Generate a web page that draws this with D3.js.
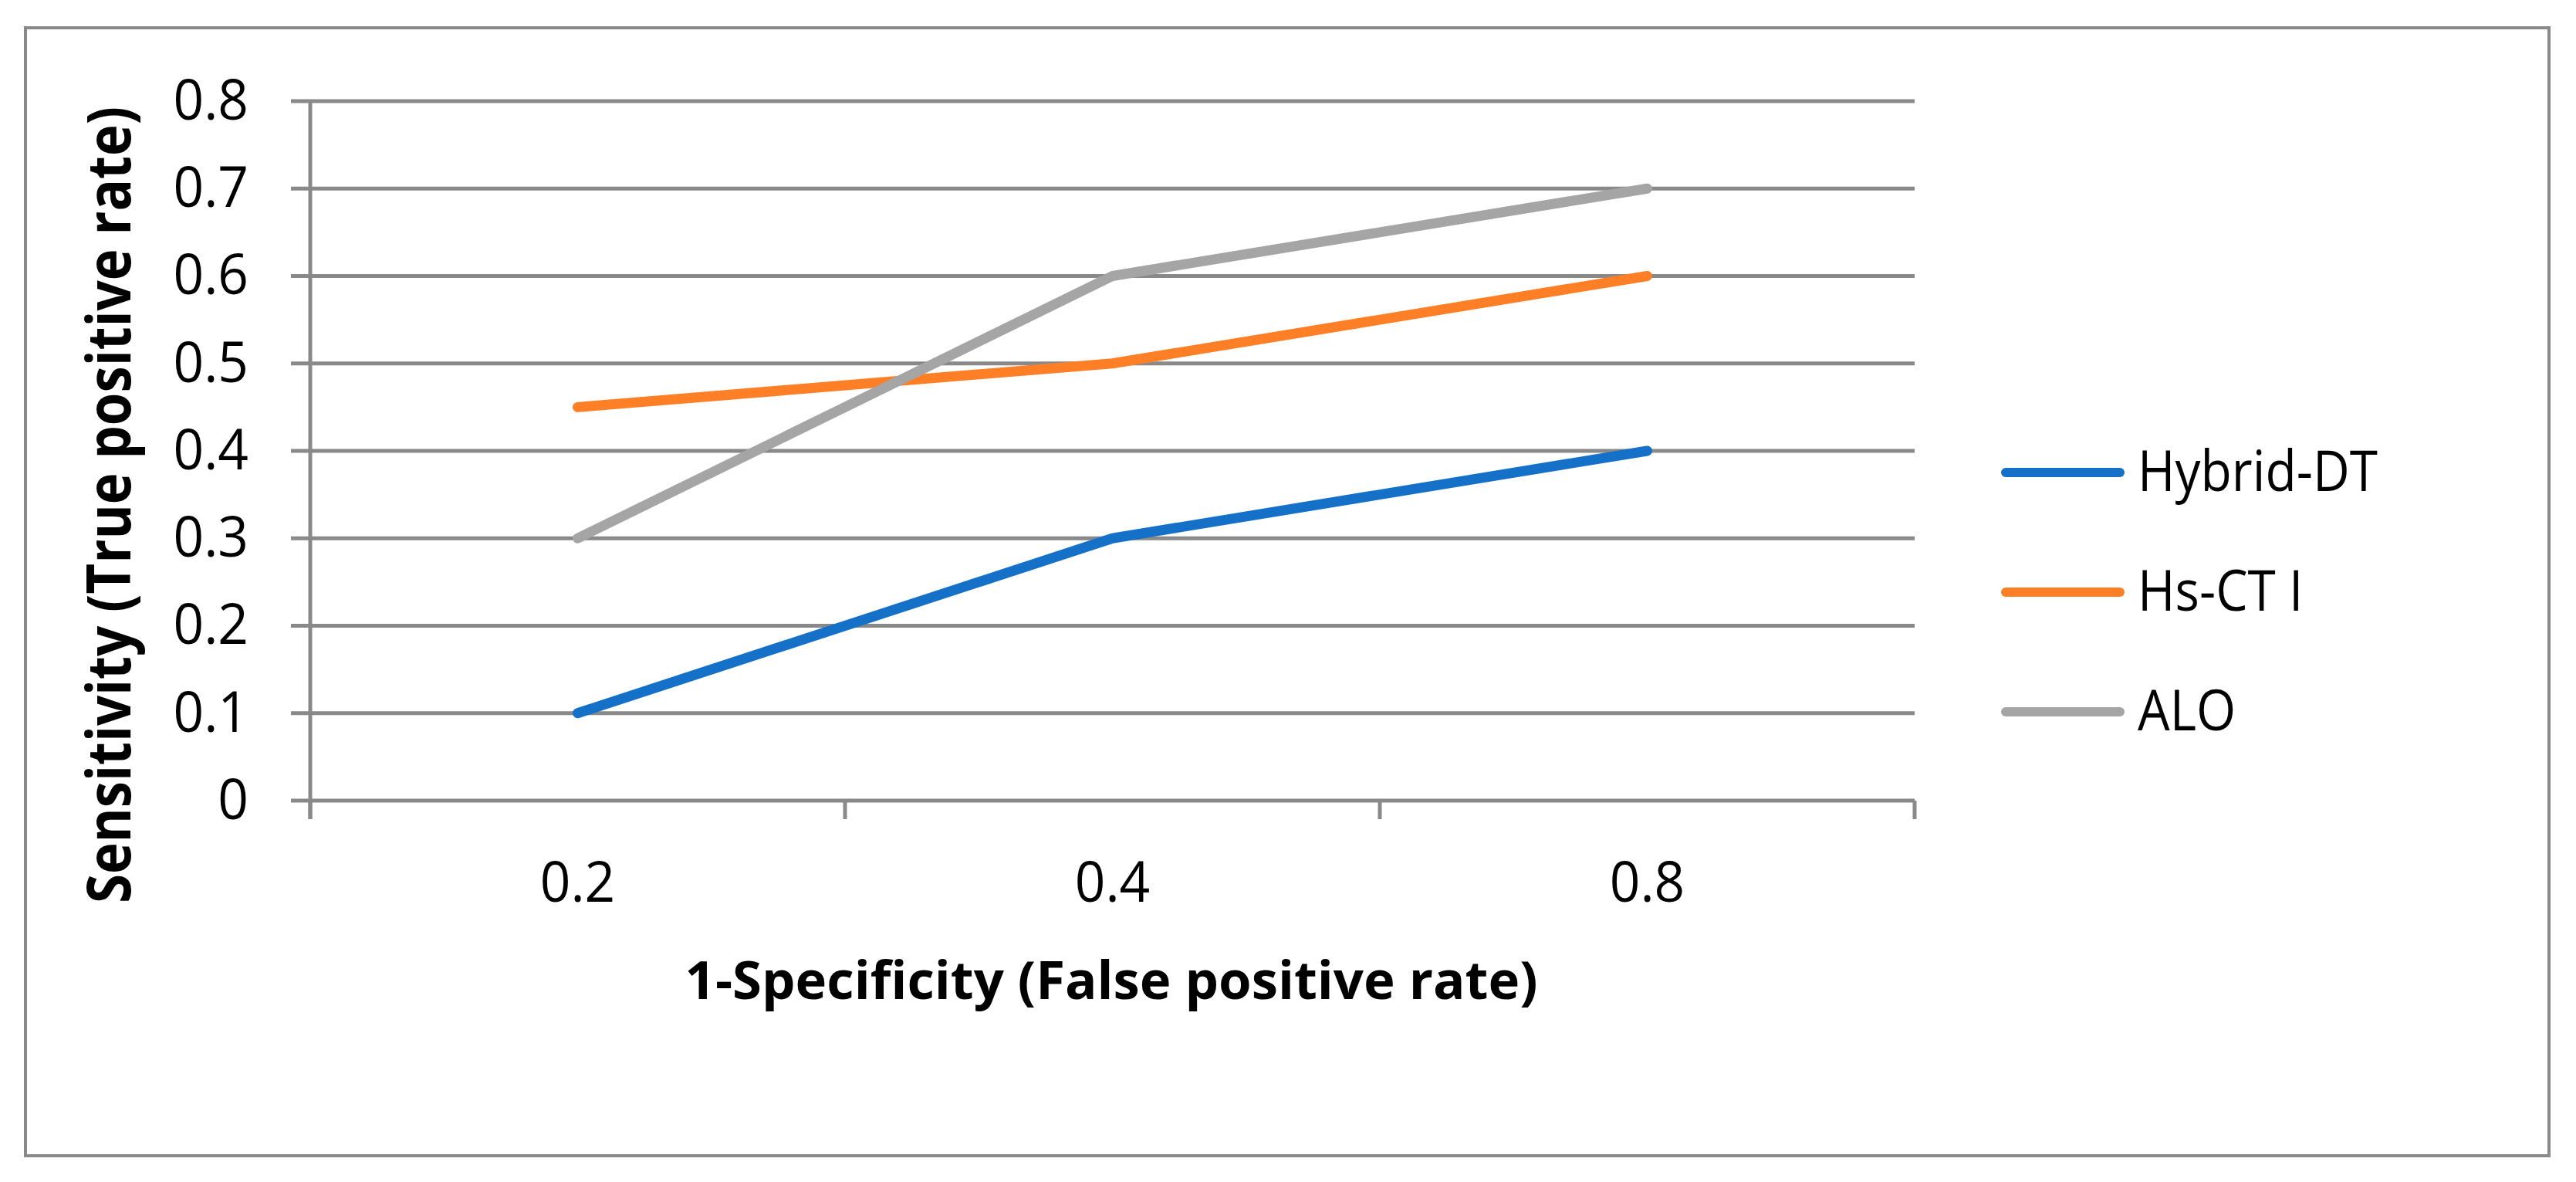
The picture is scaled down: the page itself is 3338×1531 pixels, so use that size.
<!DOCTYPE html>
<html lang="en">
<head>
<meta charset="UTF-8">
<title>ROC comparison</title>
<script src="https://d3js.org/d3.v7.min.js"></script>
<style>
    body { margin: 0; background: #fff; }
    svg { display: block; }
    text { font-family: "Open Sans", "Noto Sans", sans-serif; fill: #000; }
</style>
</head>
<body>
<svg id="chart"></svg>
<script>
    // data
    const categories = ["0.2", "0.4", "0.8"];
    const seriesNames = ["Hybrid-DT", "Hs-CT I", "ALO"];
    const hybridDT = [0.1, 0.3, 0.4];
    const hsCTI = [0.45, 0.5, 0.6];
    const alo = [0.3, 0.6, 0.7];
    const yTicks = [0, 0.1, 0.2, 0.3, 0.4, 0.5, 0.6, 0.7, 0.8];
    const colors = ["#1570c8", "#ff7f27", "#a5a5a5"];

    const width = 3338, height = 1531;
    const plot = { left: 402, right: 2481, top: 131, bottom: 1037 };
    const gridColor = "#898989";

    // Open Sans is a bit wider than the original font, squeeze it a little
    function squeeze(sel, k) {
        sel.each(function () {
            const w = this.getComputedTextLength();
            d3.select(this).attr("textLength", w * k).attr("lengthAdjust", "spacingAndGlyphs");
        });
    }

    const svg = d3.select("#chart").attr("width", width).attr("height", height);

    // outer chart frame
    svg.append("rect")
        .attr("x", 33).attr("y", 36)
        .attr("width", 3303 - 33).attr("height", 1497 - 36)
        .attr("fill", "none").attr("stroke", gridColor).attr("stroke-width", 4);

    const x = d3.scaleBand().domain(categories).range([plot.left, plot.right]).padding(0);
    const y = d3.scaleLinear().domain([0, 0.8]).range([plot.bottom, plot.top]);

    // gridlines, sticking out on the left like ticks
    svg.append("g").selectAll("line")
        .data(yTicks).enter().append("line")
        .attr("x1", plot.left - 25).attr("x2", plot.right)
        .attr("y1", d => y(d)).attr("y2", d => y(d))
        .attr("stroke", gridColor).attr("stroke-width", 5);

    // y axis line
    svg.append("line")
        .attr("x1", plot.left).attr("x2", plot.left)
        .attr("y1", y(0.8)).attr("y2", plot.bottom + 24)
        .attr("stroke", gridColor).attr("stroke-width", 5);

    // x tick marks on category boundaries
    const bounds = categories.map(c => x(c)).concat([plot.right]);
    svg.append("g").selectAll("line")
        .data(bounds).enter().append("line")
        .attr("x1", d => d).attr("x2", d => d)
        .attr("y1", plot.bottom).attr("y2", plot.bottom + 24)
        .attr("stroke", gridColor).attr("stroke-width", 5);

    // y tick labels
    const yAxis = svg.append("g")
        .attr("transform", `translate(${plot.left},0)`)
        .call(d3.axisLeft(y).tickValues(yTicks).tickSize(0).tickPadding(80)
            .tickFormat(d => d === 0 ? "0" : d3.format(".1f")(d)));
    yAxis.select(".domain").remove();
    yAxis.selectAll("text").attr("font-size", 73).attr("fill", "#000")
        .style("font-family", "'Open Sans', sans-serif")
        .call(squeeze, 0.95);

    // x tick labels
    const xAxis = svg.append("g")
        .attr("transform", `translate(0,${plot.bottom})`)
        .call(d3.axisBottom(x).tickSize(0).tickPadding(0));
    xAxis.select(".domain").remove();
    xAxis.selectAll("text").attr("font-size", 73).attr("fill", "#000")
        .attr("y", 131).attr("dy", null)
        .style("font-family", "'Open Sans', sans-serif")
        .call(squeeze, 0.95);

    // axis titles
    svg.append("text")
        .attr("x", 1440).attr("y", 1294)
        .attr("text-anchor", "middle")
        .attr("font-size", 68).attr("font-weight", "bold")
        .attr("textLength", 1105).attr("lengthAdjust", "spacingAndGlyphs")
        .text("1-Specificity (False positive rate)");

    svg.append("text")
        .attr("transform", "translate(169,654) rotate(-90)")
        .attr("text-anchor", "middle")
        .attr("font-size", 78).attr("font-weight", "bold")
        .attr("textLength", 1032).attr("lengthAdjust", "spacingAndGlyphs")
        .text("Sensitivity (True positive rate)");

    // series lines
    const allSeries = [hybridDT, hsCTI, alo];
    const line = d3.line()
        .x((d, i) => x(categories[i]) + x.bandwidth() / 2)
        .y(d => y(d));

    svg.append("g").selectAll("path")
        .data(allSeries).enter().append("path")
        .attr("d", d => line(d))
        .attr("fill", "none")
        .attr("stroke", (d, i) => colors[i])
        .attr("stroke-width", 13)
        .attr("stroke-linecap", "round")
        .attr("stroke-linejoin", "round");

    // legend
    const legend = svg.append("g").selectAll("g")
        .data(seriesNames).enter().append("g")
        .attr("transform", (d, i) => `translate(2599,${612 + i * 155})`);
    legend.append("line")
        .attr("x1", 0).attr("x2", 148)
        .attr("stroke", (d, i) => colors[i])
        .attr("stroke-width", 12)
        .attr("stroke-linecap", "round");
    legend.append("text")
        .attr("x", 171).attr("y", 24)
        .attr("font-size", 74)
        .text(d => d)
        .call(squeeze, 0.89);
</script>
</body>
</html>
